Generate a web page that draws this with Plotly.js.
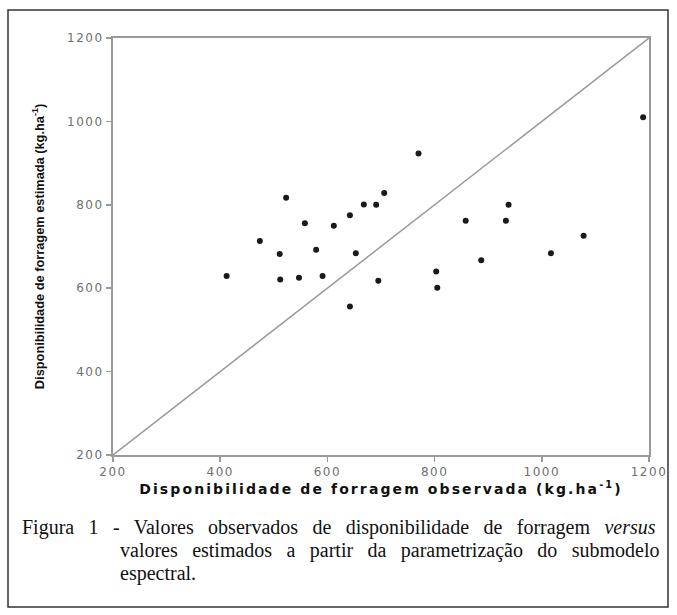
<!DOCTYPE html>
<html>
<head>
<meta charset="utf-8">
<script src="https://cdn.plot.ly/plotly-3.0.1.min.js"></script>
<style>
  html, body { margin: 0; padding: 0; background: #fff; }
  #chart { width: 677px; height: 615px; }
  .xtick text, .ytick text { letter-spacing: 1.5px; }
  .xtitle { letter-spacing: 2.1px; }
  .annotation-text { word-spacing: 9.4px; }
</style>
</head>
<body>
<div id="chart"></div>
<script>
// Observed forage availability (kg/ha)
const observed = [412, 474, 511, 512, 523, 547, 558, 579, 591, 612, 642, 653, 642, 668, 691, 706, 695,
                  770, 803, 805, 858, 887, 933, 938, 1017, 1078, 1189];
// Estimated forage availability (kg/ha)
const estimated = [629, 713, 682, 621, 817, 625, 756, 692, 629, 750, 775, 684, 556, 801, 800, 828, 618,
                   923, 640, 601, 762, 667, 762, 800, 684, 726, 1010];
// 1:1 line
const lineX = [200, 1200];
const lineY = [200, 1200];
const tickVals = [200, 400, 600, 800, 1000, 1200];
const tickText = ['200', '400', '600', '800', '1000', '1200'];

const xTitle = '<b>Disponibilidade de forragem observada (kg.ha<sup>-1</sup>)</b>';
const yTitle = '<b>Disponibilidade de forragem estimada (kg.ha<sup>-1</sup>)</b>';
const caption = [
  'Figura 1 - Valores observados de disponibilidade de forragem <i>versus</i>',
  'valores estimados a partir da parametrização do submodelo',
  'espectral.'
];

const traces = [
  {
    x: lineX, y: lineY, mode: 'lines', type: 'scatter',
    line: { color: '#9a9a9a', width: 1.5 }, hoverinfo: 'skip', showlegend: false
  },
  {
    x: observed, y: estimated, mode: 'markers', type: 'scatter',
    marker: { color: '#1a1a1a', size: 6, symbol: 'circle' }, showlegend: false
  }
];

const axisCommon = {
  range: [200, 1200],
  tickvals: tickVals, ticktext: tickText,
  showgrid: false, zeroline: false,
  showline: true, linecolor: '#9a9a9a', linewidth: 2, mirror: true,
  ticks: 'outside', ticklen: 5, tickwidth: 1.5, tickcolor: '#9a9a9a',
  tickfont: { family: 'DejaVu Sans', size: 12, color: '#707070' },
  automargin: false, fixedrange: true
};

// paper-coordinate helpers for the outer frame
const plotL = 113, plotR = 649, plotT = 38, plotB = 455;
const px = v => (v - plotL) / (plotR - plotL);
const py = v => (plotB - v) / (plotB - plotT);

const capFont = { family: 'Liberation Serif', size: 20, color: '#111' };

const layout = {
  width: 677, height: 615,
  margin: { l: plotL, r: 677 - plotR, t: plotT, b: 615 - plotB },
  paper_bgcolor: '#ffffff', plot_bgcolor: '#ffffff',
  xaxis: Object.assign({}, axisCommon, {
    title: { text: xTitle, standoff: 6,
             font: { family: 'DejaVu Sans', size: 14, color: '#111' } }
  }),
  yaxis: Object.assign({}, axisCommon, {
    title: { text: yTitle, standoff: 20,
             font: { family: 'Liberation Sans', size: 12.8, color: '#111' } }
  }),
  shapes: [
    { type: 'rect', xref: 'paper', yref: 'paper',
      x0: px(8), x1: px(668), y0: py(607), y1: py(10),
      line: { color: '#333', width: 1.5 } }
  ],
  annotations: [
    { text: caption[0], xref: 'paper', yref: 'paper', x: px(20), y: py(527),
      xanchor: 'left', yanchor: 'middle', align: 'left', showarrow: false, font: capFont },
    { text: caption[1], xref: 'paper', yref: 'paper', x: px(118), y: py(550),
      xanchor: 'left', yanchor: 'middle', align: 'left', showarrow: false, font: capFont },
    { text: caption[2], xref: 'paper', yref: 'paper', x: px(118), y: py(573),
      xanchor: 'left', yanchor: 'middle', align: 'left', showarrow: false, font: capFont }
  ],
  showlegend: false
};

Plotly.newPlot('chart', traces, layout, { displayModeBar: false, staticPlot: true });
</script>
</body>
</html>
